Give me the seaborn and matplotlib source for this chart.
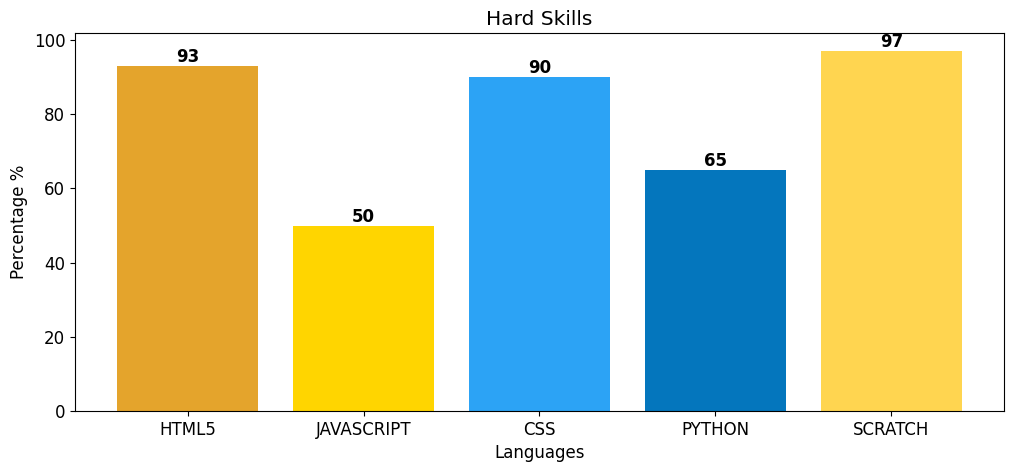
import matplotlib
matplotlib.use("Agg")
import matplotlib.pyplot as plt
import seaborn as sns
import pandas as pd

languages = ["HTML5", "JAVASCRIPT", "CSS", "PYTHON", "SCRATCH"]
percentages = [93, 50, 90, 65, 97]
colors = ["#E4A42C", "#FFD500", "#2CA3F5", "#0476BD", "#FFD550"]

plt.rcParams['font.family'] = ['DejaVu Sans']

df = pd.DataFrame({"Languages": languages, "Percentage": percentages})

fig = plt.figure(figsize=(10.14, 4.72), dpi=100)
ax = fig.add_axes([0.074, 0.129, 0.916, 0.801])
sns.barplot(data=df, x="Languages", y="Percentage", hue="Languages",
            palette=colors, dodge=False, legend=False, ax=ax, width=0.8,
            saturation=1, edgecolor="none", linewidth=0)
for c in ax.containers:
    ax.bar_label(c, fontsize=12, fontweight="bold", padding=0, color="black")
ax.set_title("Hard Skills", fontsize=14.5, color="black")
ax.set_xlabel("Languages", fontsize=12, color="black")
ax.set_ylabel("Percentage %", fontsize=12, color="black")
ax.tick_params(labelsize=12, colors="black")
for s in ax.spines.values():
    s.set_visible(True)
    s.set_color("black")
ax.set_ylim(0, 101.85)
ax.set_xlim(-0.64, 4.64)
fig.savefig("out.png", dpi=100)
